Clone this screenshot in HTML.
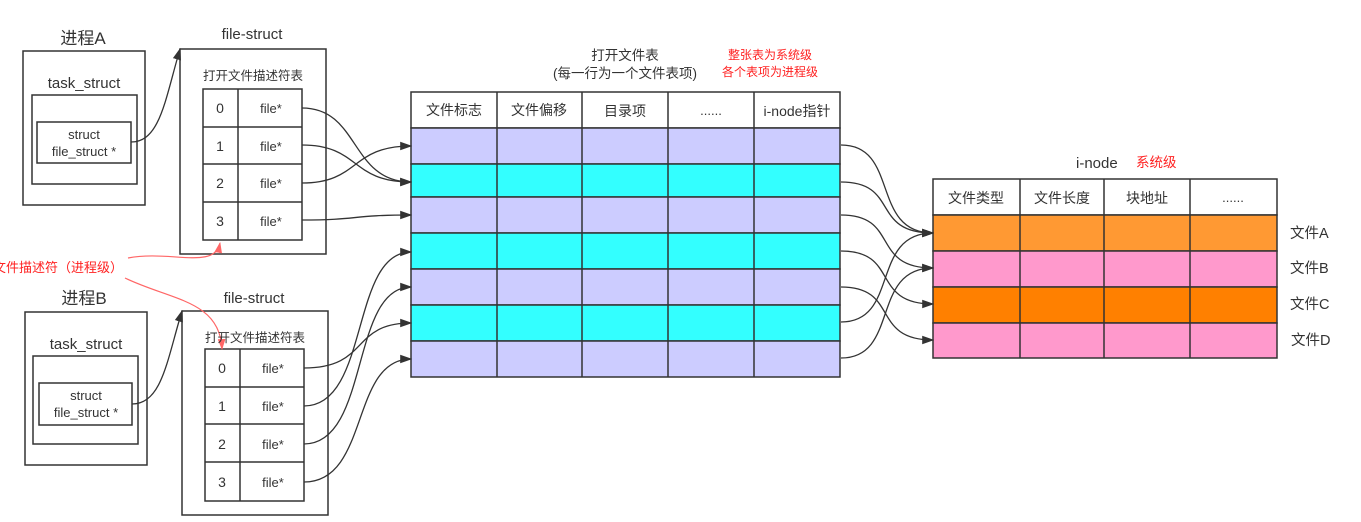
<!DOCTYPE html>
<html><head><meta charset="utf-8"><style>
html,body{margin:0;padding:0;background:#fff;}
svg{display:block;}
text{font-family:"Liberation Sans","Noto Sans CJK SC",sans-serif;fill:#333;}
</style></head><body>
<svg width="1361" height="522" viewBox="0 0 1361 522" xmlns="http://www.w3.org/2000/svg">
<defs>
<marker id="ah" viewBox="0 0 10 10" refX="9" refY="5" markerWidth="12" markerHeight="12" orient="auto-start-reverse" markerUnits="userSpaceOnUse"><path d="M0,1.5 L10,5 L0,8.5 Z" fill="#333"/></marker>
<marker id="ar" viewBox="0 0 10 10" refX="9" refY="5" markerWidth="11" markerHeight="11" orient="auto" markerUnits="userSpaceOnUse"><path d="M0,1.5 L10,5 L0,8.5 Z" fill="#ff6666"/></marker>
</defs>
<g fill="none" stroke="#333" stroke-width="1.5">
<rect x="23" y="51" width="122" height="154"/>
<rect x="32" y="95" width="105" height="89"/>
<rect x="37" y="122" width="94" height="41"/>
<rect x="180" y="49" width="146" height="205"/>
<rect x="203" y="89" width="99" height="151"/>
<line x1="238" y1="89" x2="238" y2="240"/>
<line x1="203" y1="127" x2="302" y2="127"/>
<line x1="203" y1="164" x2="302" y2="164"/>
<line x1="203" y1="202" x2="302" y2="202"/>
<rect x="25" y="312" width="122" height="153"/>
<rect x="33" y="356" width="105" height="88"/>
<rect x="39" y="383" width="93" height="42"/>
<rect x="182" y="311" width="146" height="204"/>
<rect x="205" y="349" width="99" height="152"/>
<line x1="240" y1="349" x2="240" y2="501"/>
<line x1="205" y1="387" x2="304" y2="387"/>
<line x1="205" y1="424" x2="304" y2="424"/>
<line x1="205" y1="462" x2="304" y2="462"/>
</g>
<g stroke="#333" stroke-width="1.5">
<rect x="411" y="92" width="429" height="36" fill="#fff"/>
<rect x="411" y="128" width="429" height="36" fill="#ccccff"/>
<rect x="411" y="164" width="429" height="33" fill="#33ffff"/>
<rect x="411" y="197" width="429" height="36" fill="#ccccff"/>
<rect x="411" y="233" width="429" height="36" fill="#33ffff"/>
<rect x="411" y="269" width="429" height="36" fill="#ccccff"/>
<rect x="411" y="305" width="429" height="36" fill="#33ffff"/>
<rect x="411" y="341" width="429" height="36" fill="#ccccff"/>
<line x1="497" y1="92" x2="497" y2="377"/>
<line x1="582" y1="92" x2="582" y2="377"/>
<line x1="668" y1="92" x2="668" y2="377"/>
<line x1="754" y1="92" x2="754" y2="377"/>
</g>
<g stroke="#333" stroke-width="1.5">
<rect x="933" y="179" width="344" height="36" fill="#fff"/>
<rect x="933" y="215" width="344" height="36" fill="#ff9933"/>
<rect x="933" y="251" width="344" height="36" fill="#ff99cc"/>
<rect x="933" y="287" width="344" height="36" fill="#ff8000"/>
<rect x="933" y="323" width="344" height="35" fill="#ff99cc"/>
<line x1="1020" y1="179" x2="1020" y2="358"/>
<line x1="1104" y1="179" x2="1104" y2="358"/>
<line x1="1190" y1="179" x2="1190" y2="358"/>
</g>
<g fill="none" stroke="#333" stroke-width="1.3" marker-end="url(#ah)">
<path d="M131,142 C160,142 165,100 180,49"/>
<path d="M132,404 C162,404 167,360 182,311"/>
<path d="M302,108 C360,108 350,182 411,182"/>
<path d="M302,145 C360,145 350,182 411,182"/>
<path d="M302,183 C360,183 350,146 411,146"/>
<path d="M302,220 C360,220 350,215 411,215"/>
<path d="M304,368 C370,368 350,323 411,323"/>
<path d="M304,406 C370,406 350,252 411,252"/>
<path d="M304,444 C370,444 350,287 411,287"/>
<path d="M304,482 C370,482 350,359 411,359"/>
<path d="M841,145 C900,145 870,233 933,233"/>
<path d="M841,182 C900,182 870,233 933,233"/>
<path d="M841,215 C900,215 870,268 933,268"/>
<path d="M841,251 C900,251 870,304 933,304"/>
<path d="M841,287 C900,287 870,340 933,340"/>
<path d="M841,322 C900,322 870,233 933,233"/>
<path d="M841,358 C900,358 870,268 933,268"/>
</g>
<g fill="none" stroke="#ff6666" stroke-width="1.2" marker-end="url(#ar)">
<path d="M128,258 C170,250 215,270 220,243"/>
<path d="M125,278 C170,300 220,300 222,349"/>
</g>
<g text-anchor="middle">
<text x="83" y="44" font-size="17">进程A</text>
<text x="84" y="88" font-size="15">task_struct</text>
<text x="84" y="139" font-size="13">struct</text>
<text x="84" y="156" font-size="13">file_struct *</text>
<text x="252" y="39" font-size="15">file-struct</text>
<text x="253" y="80" font-size="12.5">打开文件描述符表</text>
<text x="220" y="113" font-size="14">0</text>
<text x="220" y="151" font-size="14">1</text>
<text x="220" y="188" font-size="14">2</text>
<text x="220" y="226" font-size="14">3</text>
<text x="271" y="113" font-size="13">file*</text>
<text x="271" y="151" font-size="13">file*</text>
<text x="271" y="188" font-size="13">file*</text>
<text x="271" y="226" font-size="13">file*</text>
<text x="84" y="304" font-size="17">进程B</text>
<text x="86" y="349" font-size="15">task_struct</text>
<text x="86" y="400" font-size="13">struct</text>
<text x="86" y="417" font-size="13">file_struct *</text>
<text x="254" y="303" font-size="15">file-struct</text>
<text x="255" y="342" font-size="12.5">打开文件描述符表</text>
<text x="222" y="373" font-size="14">0</text>
<text x="222" y="411" font-size="14">1</text>
<text x="222" y="449" font-size="14">2</text>
<text x="222" y="487" font-size="14">3</text>
<text x="273" y="373" font-size="13">file*</text>
<text x="273" y="411" font-size="13">file*</text>
<text x="273" y="449" font-size="13">file*</text>
<text x="273" y="487" font-size="13">file*</text>
<text x="625" y="60" font-size="13.5">打开文件表</text>
<text x="625" y="78" font-size="13.5">(每一行为一个文件表项)</text>
<text x="770" y="59" font-size="12" style="fill:#ff2222">整张表为系统级</text>
<text x="770" y="76" font-size="12" style="fill:#ff2222">各个表项为进程级</text>
<text x="454" y="115" font-size="14">文件标志</text>
<text x="539" y="115" font-size="14">文件偏移</text>
<text x="625" y="116" font-size="14">目录项</text>
<text x="711" y="115" font-size="13">......</text>
<text x="797" y="116" font-size="14">i-node指针</text>
<text x="976" y="203" font-size="14">文件类型</text>
<text x="1062" y="203" font-size="14">文件长度</text>
<text x="1147" y="203" font-size="14">块地址</text>
<text x="1233" y="202" font-size="13">......</text>
</g>
<text x="1076" y="168" font-size="15">i-node</text>
<text x="1136" y="167" font-size="13.5" style="fill:#ff2222">系统级</text>
<text x="1290" y="238" font-size="14.5">文件A</text>
<text x="1290" y="273" font-size="14.5">文件B</text>
<text x="1290" y="309" font-size="14.5">文件C</text>
<text x="1291" y="345" font-size="14.5">文件D</text>
<text x="123" y="272" font-size="13" text-anchor="end" style="fill:#ff2222">文件描述符（进程级）</text>
</svg>
</body></html>
